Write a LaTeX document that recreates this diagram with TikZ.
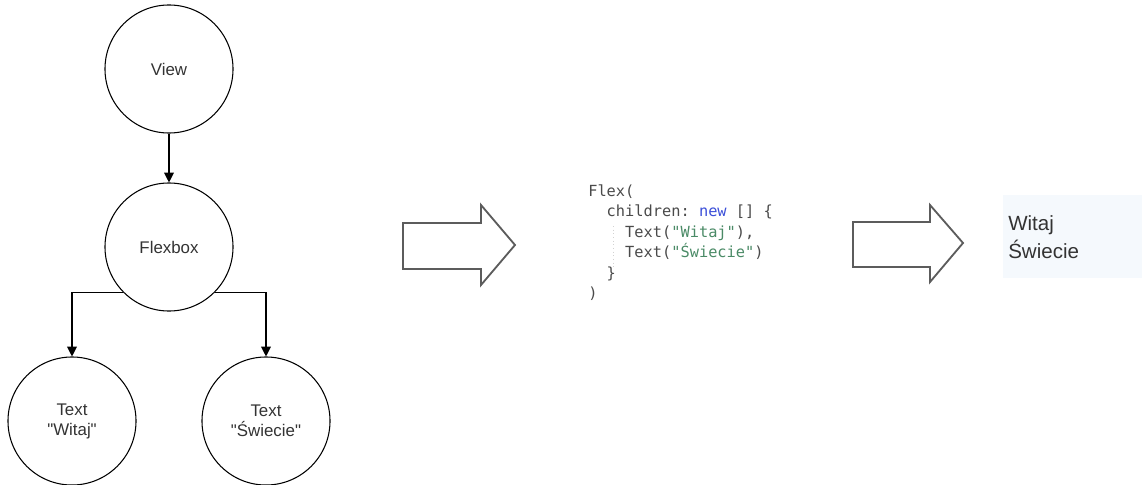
\documentclass[tikz,border=0pt]{standalone}
\usepackage{fontspec}
\setmainfont{Liberation Sans}
\newfontfamily\codefont{DejaVu Sans Mono}
\usetikzlibrary{arrows.meta}

\definecolor{labelgray}{HTML}{333333}
\definecolor{blockgray}{HTML}{5C5C5C}
\definecolor{codegray}{HTML}{4A4A4A}
\definecolor{codeblue}{HTML}{3B4FD8}
\definecolor{codestr}{HTML}{4A8A66}
\definecolor{outbg}{HTML}{F5F9FD}

\begin{document}
\begin{tikzpicture}[x=0.025cm, y=-0.025cm, >={Triangle[length=7pt,width=7pt]},
    tree/.style={circle, draw, line width=0.75pt, minimum size=3.2cm, inner sep=0pt,
        align=center, text=labelgray, font=\fontsize{12}{14.2}\selectfont},
    link/.style={->, line width=0.75pt},
    block/.style={draw=blockgray, line width=1.3pt, line join=miter}]
    \useasboundingbox (0,0) rectangle (1142,485);

    % the widget tree
    \node[tree] (view) at (169,69) {View};
    \node[tree] (flexbox) at (169,247) {Flexbox};
    \node[tree] (witaj) at (72,421) {Text\\\textquotedbl Witaj\textquotedbl};
    \node[tree] (swiecie) at (266,421) {Text\\\textquotedbl Świecie\textquotedbl};

    \draw[link] (view) -- (flexbox);
    \draw[link] (flexbox.south west) -| (witaj);
    \draw[link] (flexbox.south east) -| (swiecie);

    % block arrows
    \draw[block] (403,223) -- (481,223) -- (481,205) -- (515,245) -- (481,285) -- (481,269) -- (403,269) -- cycle;
    \draw[block] (853,222) -- (930,222) -- (930,205) -- (963,243) -- (930,282) -- (930,267) -- (853,267) -- cycle;

    % the code
    \draw[gray!35, dotted, line width=0.6pt] (613,226) -- (613,268);
    \node[anchor=north west, inner sep=0pt, align=left, text=codegray,
        font=\codefont\frenchspacing\fontsize{10.9}{14.6}\selectfont] (code) at (588,184) {%
        Flex(\\
        \phantom{xx}children: \textcolor{codeblue}{new} [] \{\\
        \phantom{xxxx}Text(\textcolor{codestr}{"Witaj"}),\\
        \phantom{xxxx}Text(\textcolor{codestr}{"Świecie"})\\
        \phantom{xx}\}\\
        )};

    % what gets rendered
    \fill[outbg] (1003,195) rectangle (1142,278);
    \node[anchor=north west, inner sep=0pt, align=left, text=labelgray,
        font=\fontsize{14.6}{19.9}\selectfont] (output) at (1008,215) {Witaj\\Świecie};
\end{tikzpicture}
\end{document}
